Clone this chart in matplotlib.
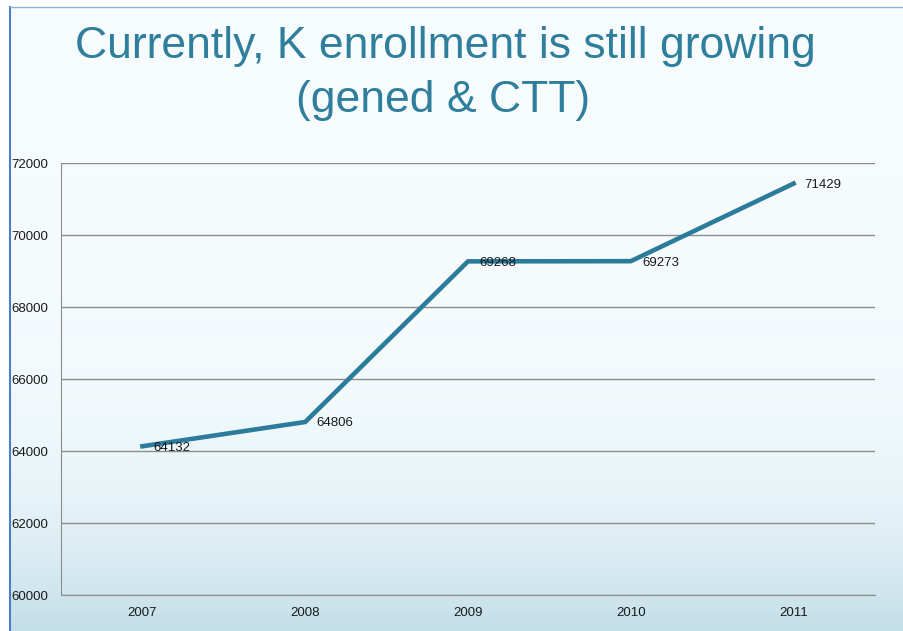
import numpy as np
import matplotlib
matplotlib.use("Agg")
import matplotlib.pyplot as plt

years = ["2007", "2008", "2009", "2010", "2011"]
enrollment = [64132, 64806, 69268, 69273, 71429]
y_ticks = [60000, 62000, 64000, 66000, 68000, 70000, 72000]

W, H = 904, 631
fig = plt.figure(figsize=(W / 100, H / 100), dpi=100)
fig.patch.set_facecolor("white")

# slide background: near white with a light blue wash toward the bottom
bg = fig.add_axes([9 / W, 0, 1 - 9 / W, 1 - 7 / H])
grad = np.linspace(0, 1, 256) ** 5
top = np.array([0.965, 0.988, 0.996])
bot = np.array([0.76, 0.87, 0.91])
img = top[None, :] * (1 - grad[:, None]) + bot[None, :] * grad[:, None]
bg.imshow(img[:, None, :], aspect="auto", extent=[0, 1, 0, 1], origin="upper")
bg.set_xlim(0, 1)
bg.set_ylim(0, 1)
bg.axis("off")
# slide borders
fig.add_artist(plt.Line2D([9.5 / W, 9.5 / W], [0, 1 - 7 / H], transform=fig.transFigure,
                          color="#4a7fc8", lw=1.5))
fig.add_artist(plt.Line2D([9.5 / W, 1], [1 - 7 / H, 1 - 7 / H], transform=fig.transFigure,
                          color="#8fb0d8", lw=1))

title_color = "#2f7e9b"
fig.text(445 / W, 1 - 58 / H, "Currently, K enrollment is still growing", ha="center",
         va="baseline", fontsize=32, color=title_color, family="Liberation Sans")
fig.text(443 / W, 1 - 112 / H, "(gened & CTT)", ha="center", va="baseline",
         fontsize=32, color=title_color, family="Liberation Sans")

ax = fig.add_axes([61 / W, 1 - 595 / H, 814 / W, 432 / H])
ax.patch.set_alpha(0)
x = np.arange(len(years))
ax.plot(x, enrollment, color="#2b7b9a", lw=3.3, solid_joinstyle="miter", zorder=3)
for xi, v in zip(x, enrollment):
    ax.annotate(str(v), (xi, v), xytext=(8, -1), textcoords="offset points",
                ha="left", va="center", fontsize=9.5, color="#1a1a1a",
                family="Liberation Sans", zorder=4)

ax.set_xlim(-0.5, len(years) - 0.5)
ax.set_ylim(60000, 72000)
ax.set_yticks(y_ticks)
ax.set_xticks(x)
ax.set_xticklabels(years)
ax.grid(axis="y", color="#8c8c8c", lw=1)
ax.set_axisbelow(True)
for s in ["top", "right"]:
    ax.spines[s].set_visible(False)
ax.spines["left"].set_color("#8c8c8c")
ax.spines["bottom"].set_color("#8c8c8c")
ax.tick_params(length=0, labelsize=9.5, labelcolor="#1a1a1a")
ax.tick_params(axis="y", pad=9.5)
ax.tick_params(axis="x", pad=9)
for lab in ax.get_xticklabels() + ax.get_yticklabels():
    lab.set_family("Liberation Sans")

fig.savefig("out.png", dpi=100)
